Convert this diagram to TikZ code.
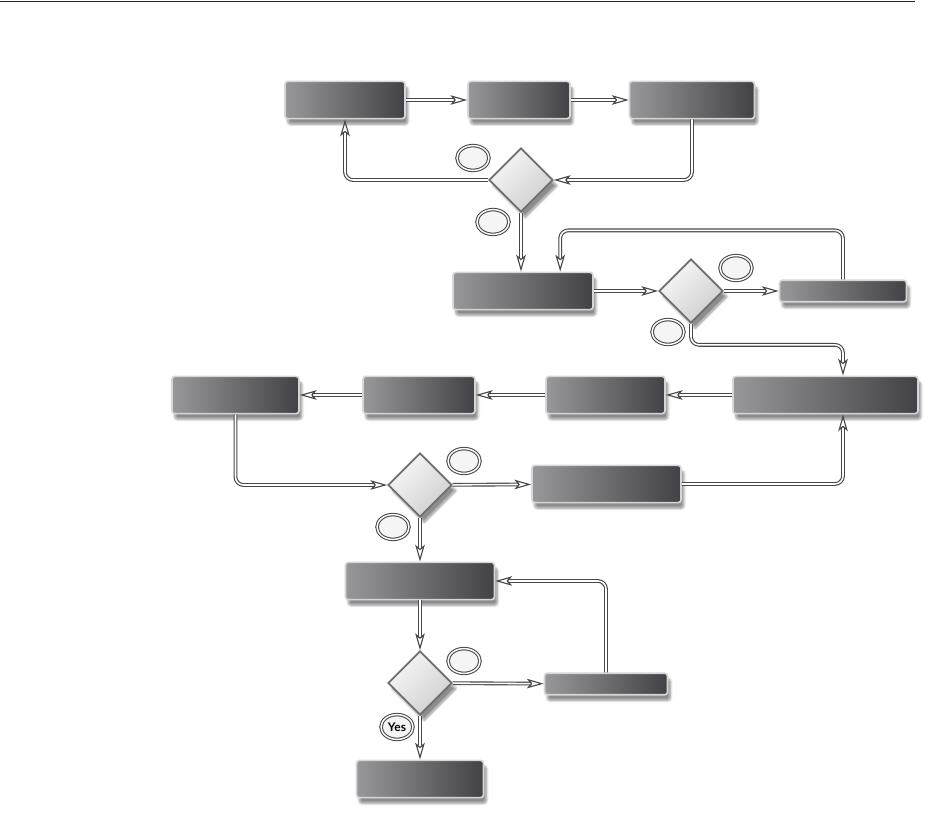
\documentclass[tikz,border=0pt]{standalone}
\usepackage{fontspec}
\newfontfamily\labelfont{Lato}
\usetikzlibrary{shapes.geometric, arrows.meta, shadows.blur}
\definecolor{boxlight}{RGB}{152,152,154}
\definecolor{boxdark}{RGB}{66,66,70}
\definecolor{boxrim}{RGB}{214,214,214}
\definecolor{wire}{RGB}{72,72,74}
\definecolor{rhombrim}{RGB}{110,110,112}

\begin{document}
\begin{tikzpicture}[x=0.025cm, y=-0.025cm,
            stepbox/.style={rectangle, rounded corners=2pt, draw=boxrim, line width=1.2pt,
                left color=boxlight, right color=boxdark, minimum height=0.93cm,
                blur shadow={shadow xshift=2pt, shadow yshift=-4pt, shadow blur steps=6, shadow opacity=45}},
            thinbox/.style={stepbox, minimum height=0.54cm},
            decision/.style={diamond, minimum width=1.6cm, minimum height=1.6cm, inner sep=0pt,
                draw=rhombrim, line width=1.2pt, shading=axis, top color=gray!6,
                bottom color=gray!38, shading angle=45,
                blur shadow={shadow xshift=3pt, shadow yshift=-4pt, shadow blur steps=6, shadow opacity=45}},
            answer/.style={ellipse, minimum width=0.8cm, minimum height=0.62cm, inner sep=0pt,
                draw=wire, double=white, double distance=1pt, line width=0.75pt, fill=gray!8,
                font=\labelfont\bfseries\fontsize{8.5}{8.5}\selectfont},
            flow/.style={draw=wire, line width=0.8pt, double=white, double distance=1.1pt,
                rounded corners=0.2cm, -{Stealth[open, length=0.42cm, width=0.24cm, inset=0.1cm]}}]
            \useasboundingbox (0,0) rectangle (950,829);
            \draw[line width=1.3pt, black!85] (0,1.5) -- (915,1.5);

            % top row and first check
            \node[stepbox, minimum width=3cm] (order) at (345,100) {};
            \node[stepbox, minimum width=2.55cm] (pick) at (519,100) {};
            \node[stepbox, minimum width=3.125cm] (pack) at (692,100) {};
            \node[decision] (check1) at (521,180) {};
            \node[answer] (no1) at (473,158) {};
            \node[answer] (ok1) at (493,222) {};

            % second row
            \node[stepbox, minimum width=3.5cm] (ship) at (523,291) {};
            \node[decision] (check2) at (691,291) {};
            \node[thinbox, minimum width=3.175cm] (retry) at (843,291) {};
            \node[answer] (no2) at (736,268) {};
            \node[answer] (ok2) at (668,332) {};

            % third row, right to left
            \node[stepbox, minimum width=4.625cm] (bill) at (825.5,395) {};
            \node[stepbox, minimum width=2.975cm] (post) at (605.5,395) {};
            \node[stepbox, minimum width=2.8cm] (file) at (419,395) {};
            \node[stepbox, minimum width=3.175cm] (close) at (235.5,395) {};
            \node[decision] (check3) at (420,485) {};
            \node[stepbox, minimum width=3.725cm] (fix) at (606.5,484) {};
            \node[answer] (no3) at (464,461) {};
            \node[answer] (ok3) at (393,527) {};

            % last check
            \node[stepbox, minimum width=3.725cm] (audit) at (420,581) {};
            \node[decision] (check4) at (420,683) {};
            \node[thinbox, minimum width=3.075cm] (redo) at (606,684) {};
            \node[stepbox, minimum width=3.175cm] (done) at (420,779) {};
            \node[answer] (no4) at (464,661) {};
            \node[answer] (yes) at (397,727) {Yes};

            \draw[flow] (order) -- (pick);
            \draw[flow] (pick) -- (pack);
            \draw[flow] (pack.south) |- (check1.east);
            \draw[flow] (check1.west) -| (order.south);
            \draw[flow] (check1.south) -- (check1.south |- ship.north);
            \draw[flow] (ship) -- (check2);
            \draw[flow] (check2) -- (retry);
            \draw[flow] (retry.north) -- ++(0,-49) -| ([xshift=0.93cm]ship.north);
            \draw[flow] (check2.south) -- ++(0,21) -| (retry.north |- bill.north);
            \draw[flow] (bill) -- (post);
            \draw[flow] (post) -- (file);
            \draw[flow] (file) -- (close);
            \draw[flow] (close.south) |- (check3.west);
            \draw[flow] (check3) -- (fix);
            \draw[flow] (fix.east) -| (retry.north |- bill.south);
            \draw[flow] (check3) -- (audit);
            \draw[flow] (audit) -- (check4);
            \draw[flow] (check4) -- (redo);
            \draw[flow] (redo.north) |- (audit.east);
            \draw[flow] (check4) -- (done);
\end{tikzpicture}
\end{document}
